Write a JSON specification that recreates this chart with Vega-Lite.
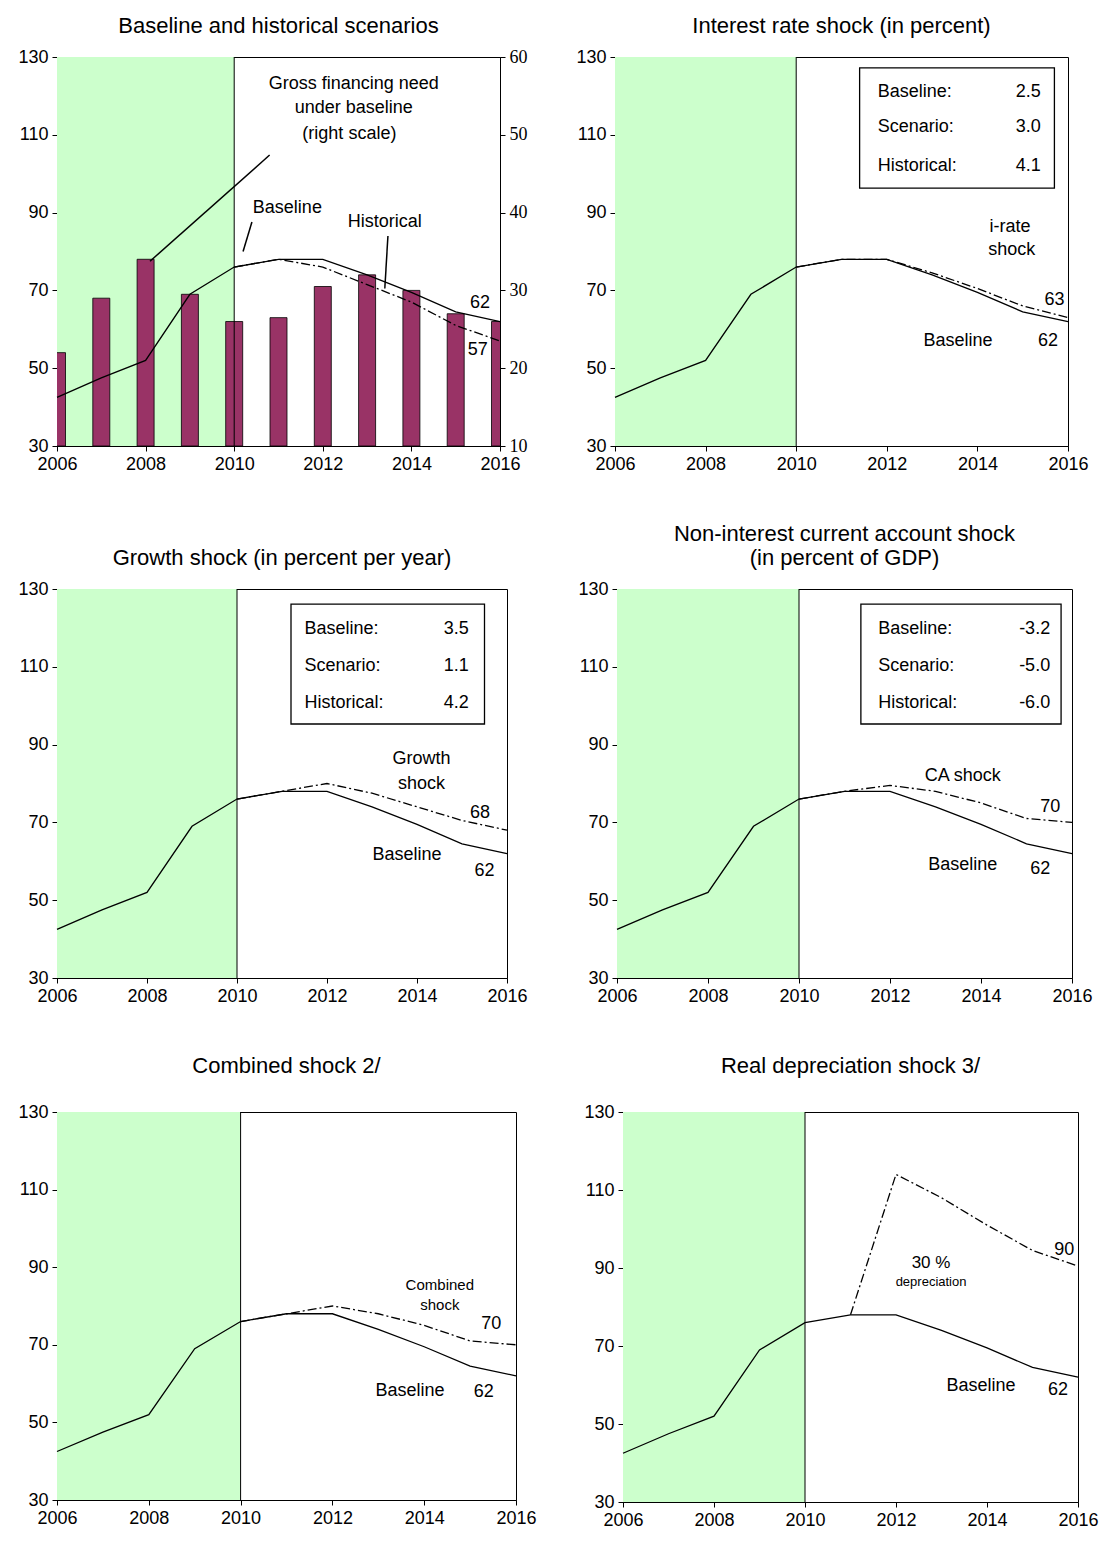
{
  "$schema": "https://vega.github.io/schema/vega-lite/v6.json",
  "padding": {"left": 17, "top": 14, "right": 5, "bottom": 5},
  "datasets": {
    "base": [
      {"year":2006,"v":42.5},{"year":2007,"v":47.5},{"year":2008,"v":52},{"year":2009,"v":69},{"year":2010,"v":76},{"year":2011,"v":78},{"year":2012,"v":78},{"year":2013,"v":74},{"year":2014,"v":69.5},{"year":2015,"v":64.5},{"year":2016,"v":62}
    ],
    "scen": [
      {"p":1,"year":2010,"v":76},{"p":1,"year":2011,"v":78},{"p":1,"year":2012,"v":76},{"p":1,"year":2013,"v":71.5},{"p":1,"year":2014,"v":67},{"p":1,"year":2015,"v":61},{"p":1,"year":2016,"v":57},
      {"p":2,"year":2010,"v":76},{"p":2,"year":2011,"v":78},{"p":2,"year":2012,"v":78},{"p":2,"year":2013,"v":74.5},{"p":2,"year":2014,"v":70.5},{"p":2,"year":2015,"v":66},{"p":2,"year":2016,"v":63},
      {"p":3,"year":2010,"v":76},{"p":3,"year":2011,"v":78},{"p":3,"year":2012,"v":80},{"p":3,"year":2013,"v":77.5},{"p":3,"year":2014,"v":74},{"p":3,"year":2015,"v":70.5},{"p":3,"year":2016,"v":68},
      {"p":4,"year":2010,"v":76},{"p":4,"year":2011,"v":78},{"p":4,"year":2012,"v":79.5},{"p":4,"year":2013,"v":78},{"p":4,"year":2014,"v":75},{"p":4,"year":2015,"v":71},{"p":4,"year":2016,"v":70},
      {"p":5,"year":2010,"v":76},{"p":5,"year":2011,"v":78},{"p":5,"year":2012,"v":80},{"p":5,"year":2013,"v":78},{"p":5,"year":2014,"v":75},{"p":5,"year":2015,"v":71},{"p":5,"year":2016,"v":70},
      {"p":6,"year":2011,"v":78},{"p":6,"year":2012,"v":114},{"p":6,"year":2013,"v":108},{"p":6,"year":2014,"v":101},{"p":6,"year":2015,"v":94.5},{"p":6,"year":2016,"v":90.5}
    ],
    "gfn": [
      {"year":2006,"v":22},{"year":2007,"v":29},{"year":2008,"v":34},{"year":2009,"v":29.5},{"year":2010,"v":26},{"year":2011,"v":26.5},{"year":2012,"v":30.5},{"year":2013,"v":32},{"year":2014,"v":30},{"year":2015,"v":27},{"year":2016,"v":26}
    ],
    "lab": [
      {"p":1,"x":2012.7,"y":123.1,"t":"Gross financing need","s":18},
      {"p":1,"x":2012.7,"y":116.9,"t":"under baseline","s":18},
      {"p":1,"x":2012.6,"y":110.2,"t":"(right scale)","s":18},
      {"p":1,"x":2011.2,"y":91.2,"t":"Baseline","s":18},
      {"p":1,"x":2013.4,"y":87.6,"t":"Historical","s":18},
      {"p":1,"x":2015.55,"y":66.8,"t":"62","s":18},
      {"p":1,"x":2015.5,"y":54.7,"t":"57","s":18},
      {"p":2,"x":2014.72,"y":86.3,"t":"i-rate","s":18},
      {"p":2,"x":2014.76,"y":80.4,"t":"shock","s":18},
      {"p":2,"x":2015.7,"y":67.5,"t":"63","s":18},
      {"p":2,"x":2013.57,"y":57,"t":"Baseline","s":18},
      {"p":2,"x":2015.56,"y":57,"t":"62","s":18},
      {"p":3,"x":2014.1,"y":86.3,"t":"Growth","s":18},
      {"p":3,"x":2014.1,"y":80,"t":"shock","s":18},
      {"p":3,"x":2015.4,"y":72.4,"t":"68","s":18},
      {"p":3,"x":2013.78,"y":61.6,"t":"Baseline","s":18},
      {"p":3,"x":2015.5,"y":57.5,"t":"62","s":18},
      {"p":4,"x":2013.6,"y":81.9,"t":"CA shock","s":18},
      {"p":4,"x":2015.52,"y":74,"t":"70","s":18},
      {"p":4,"x":2013.6,"y":59.1,"t":"Baseline","s":18},
      {"p":4,"x":2015.3,"y":58,"t":"62","s":18},
      {"p":5,"x":2014.34,"y":85.4,"t":"Combined","s":15},
      {"p":5,"x":2014.34,"y":80.3,"t":"shock","s":15},
      {"p":5,"x":2015.46,"y":75.4,"t":"70","s":18},
      {"p":5,"x":2013.69,"y":58.1,"t":"Baseline","s":18},
      {"p":5,"x":2015.3,"y":57.8,"t":"62","s":18},
      {"p":6,"x":2012.77,"y":91.3,"t":"30 %","s":17},
      {"p":6,"x":2012.77,"y":86.4,"t":"depreciation","s":13},
      {"p":6,"x":2015.7,"y":94.6,"t":"90","s":18},
      {"p":6,"x":2013.87,"y":59.7,"t":"Baseline","s":18},
      {"p":6,"x":2015.56,"y":58.7,"t":"62","s":18}
    ],
    "box": [
      {"p":2,"x0":2011.4,"x1":2015.7,"y0":96.3,"y1":127.2},
      {"p":3,"x0":2011.2,"x1":2015.5,"y0":95.3,"y1":126.1},
      {"p":4,"x0":2011.36,"x1":2015.76,"y0":95.3,"y1":126.1}
    ],
    "boxtext": [
      {"p":2,"lx":2011.8,"vx":2015.4,"y":121,"l":"Baseline:","v":"2.5"},
      {"p":2,"lx":2011.8,"vx":2015.4,"y":112,"l":"Scenario:","v":"3.0"},
      {"p":2,"lx":2011.8,"vx":2015.4,"y":102,"l":"Historical:","v":"4.1"},
      {"p":3,"lx":2011.5,"vx":2015.15,"y":119.7,"l":"Baseline:","v":"3.5"},
      {"p":3,"lx":2011.5,"vx":2015.15,"y":110.2,"l":"Scenario:","v":"1.1"},
      {"p":3,"lx":2011.5,"vx":2015.15,"y":100.7,"l":"Historical:","v":"4.2"},
      {"p":4,"lx":2011.74,"vx":2015.52,"y":119.7,"l":"Baseline:","v":"-3.2"},
      {"p":4,"lx":2011.74,"vx":2015.52,"y":110.2,"l":"Scenario:","v":"-5.0"},
      {"p":4,"lx":2011.74,"vx":2015.52,"y":100.7,"l":"Historical:","v":"-6.0"}
    ],
    "arrows": [
      {"x":2010.8,"y":104.8,"x2":2008.1,"y2":77.5},
      {"x":2010.4,"y":87.6,"x2":2010.2,"y2":80},
      {"x":2013.47,"y":84,"x2":2013.4,"y2":70.5}
    ],
    "shade": [{"x0":2006,"x1":2010}]
  },
  "config": {
    "view": {"stroke": "black", "strokeWidth": 1},
    "axis": {"grid": false, "labelFont": "Liberation Sans", "labelFontSize": 18, "labelColor": "black", "domainColor": "black", "tickColor": "black", "tickSize": 5, "labelPadding": 4, "labelFlush": false},
    "title": {"font": "Liberation Sans", "fontSize": 22, "fontWeight": "normal", "color": "black", "offset": 10},
    "text": {"font": "Liberation Sans", "fontSize": 18, "color": "black"}
  },
  "spacing": 48,
  "vconcat": [
    {"spacing": 47, "hconcat": [
      {"title": "Baseline and historical scenarios", "width": 443, "height": 389,
       "resolve": {"scale": {"y": "independent"}},
       "layer": [
        {"data": {"name": "shade"}, "mark": {"type": "rect", "color": "#ccffcc"},
         "encoding": {"x": {"field": "x0", "type": "quantitative", "scale": {"domain": [2006, 2016], "padding": 0, "nice": false}, "axis": {"values": [2006,2008,2010,2012,2014,2016], "format": "d"}, "title": null}, "x2": {"field": "x1"}}},
        {"data": {"name": "gfn"}, "mark": {"type": "bar", "size": 17, "color": "#993366", "stroke": "black", "strokeWidth": 0.8, "clip": true},
         "encoding": {"x": {"field": "year", "type": "quantitative"}, "y": {"field": "v", "type": "quantitative", "scale": {"domain": [10, 60], "zero": false}, "axis": {"orient": "right", "values": [10,20,30,40,50,60], "labelFont": "Liberation Serif"}, "title": null}, "y2": {"datum": 10}}},
        {"layer": [
          {"data": {"values": [{"x": 2010}]}, "mark": {"type": "rule", "color": "black"}, "encoding": {"x": {"field": "x", "type": "quantitative"}}},
          {"data": {"name": "base"}, "mark": {"type": "line", "color": "black", "strokeWidth": 1.3},
           "encoding": {"x": {"field": "year", "type": "quantitative"}, "y": {"field": "v", "type": "quantitative", "scale": {"domain": [30, 130]}, "axis": {"values": [30,50,70,90,110,130]}, "title": null}}},
          {"data": {"name": "scen"}, "transform": [{"filter": "datum.p == 1"}], "mark": {"type": "line", "color": "black", "strokeWidth": 1.3, "strokeDash": [9, 3, 2, 3]},
           "encoding": {"x": {"field": "year", "type": "quantitative"}, "y": {"field": "v", "type": "quantitative"}}},
          {"data": {"name": "arrows"}, "mark": {"type": "rule", "color": "black", "strokeWidth": 1.5},
           "encoding": {"x": {"field": "x", "type": "quantitative"}, "y": {"field": "y", "type": "quantitative"}, "x2": {"field": "x2"}, "y2": {"field": "y2"}}},
          {"data": {"name": "lab"}, "transform": [{"filter": "datum.p == 1"}], "mark": {"type": "text"},
           "encoding": {"x": {"field": "x", "type": "quantitative"}, "y": {"field": "y", "type": "quantitative"}, "text": {"field": "t"}, "size": {"field": "s", "type": "quantitative", "scale": null}}}
        ]}
       ]},
      {"title": "Interest rate shock (in percent)", "width": 453, "height": 389,
       "layer": [
        {"data": {"name": "shade"}, "mark": {"type": "rect", "color": "#ccffcc"},
         "encoding": {"x": {"field": "x0", "type": "quantitative", "scale": {"domain": [2006, 2016], "padding": 0, "nice": false}, "axis": {"values": [2006,2008,2010,2012,2014,2016], "format": "d"}, "title": null}, "x2": {"field": "x1"}}},
        {"data": {"values": [{"x": 2010}]}, "mark": {"type": "rule", "color": "black"}, "encoding": {"x": {"field": "x", "type": "quantitative"}}},
        {"data": {"name": "base"}, "mark": {"type": "line", "color": "black", "strokeWidth": 1.3},
         "encoding": {"x": {"field": "year", "type": "quantitative"}, "y": {"field": "v", "type": "quantitative", "scale": {"domain": [30, 130]}, "axis": {"values": [30,50,70,90,110,130]}, "title": null}}},
        {"data": {"name": "scen"}, "transform": [{"filter": "datum.p == 2"}], "mark": {"type": "line", "color": "black", "strokeWidth": 1.3, "strokeDash": [9, 3, 2, 3]},
         "encoding": {"x": {"field": "year", "type": "quantitative"}, "y": {"field": "v", "type": "quantitative"}}},
        {"data": {"name": "box"}, "transform": [{"filter": "datum.p == 2"}], "mark": {"type": "rect", "fill": "white", "stroke": "black", "strokeWidth": 1.3},
         "encoding": {"x": {"field": "x0", "type": "quantitative"}, "x2": {"field": "x1"}, "y": {"field": "y0", "type": "quantitative"}, "y2": {"field": "y1"}}},
        {"data": {"name": "boxtext"}, "transform": [{"filter": "datum.p == 2"}], "mark": {"type": "text", "align": "left"},
         "encoding": {"x": {"field": "lx", "type": "quantitative"}, "y": {"field": "y", "type": "quantitative"}, "text": {"field": "l"}}},
        {"data": {"name": "boxtext"}, "transform": [{"filter": "datum.p == 2"}], "mark": {"type": "text", "align": "right"},
         "encoding": {"x": {"field": "vx", "type": "quantitative"}, "y": {"field": "y", "type": "quantitative"}, "text": {"field": "v"}}},
        {"data": {"name": "lab"}, "transform": [{"filter": "datum.p == 2"}], "mark": {"type": "text"},
         "encoding": {"x": {"field": "x", "type": "quantitative"}, "y": {"field": "y", "type": "quantitative"}, "text": {"field": "t"}, "size": {"field": "s", "type": "quantitative", "scale": null}}}
       ]}
    ]},
    {"spacing": 49, "hconcat": [
      {"title": "Growth shock (in percent per year)", "width": 450, "height": 389,
       "layer": [
        {"data": {"name": "shade"}, "mark": {"type": "rect", "color": "#ccffcc"},
         "encoding": {"x": {"field": "x0", "type": "quantitative", "scale": {"domain": [2006, 2016], "padding": 0, "nice": false}, "axis": {"values": [2006,2008,2010,2012,2014,2016], "format": "d"}, "title": null}, "x2": {"field": "x1"}}},
        {"data": {"values": [{"x": 2010}]}, "mark": {"type": "rule", "color": "black"}, "encoding": {"x": {"field": "x", "type": "quantitative"}}},
        {"data": {"name": "base"}, "mark": {"type": "line", "color": "black", "strokeWidth": 1.3},
         "encoding": {"x": {"field": "year", "type": "quantitative"}, "y": {"field": "v", "type": "quantitative", "scale": {"domain": [30, 130]}, "axis": {"values": [30,50,70,90,110,130]}, "title": null}}},
        {"data": {"name": "scen"}, "transform": [{"filter": "datum.p == 3"}], "mark": {"type": "line", "color": "black", "strokeWidth": 1.3, "strokeDash": [9, 3, 2, 3]},
         "encoding": {"x": {"field": "year", "type": "quantitative"}, "y": {"field": "v", "type": "quantitative"}}},
        {"data": {"name": "box"}, "transform": [{"filter": "datum.p == 3"}], "mark": {"type": "rect", "fill": "white", "stroke": "black", "strokeWidth": 1.3},
         "encoding": {"x": {"field": "x0", "type": "quantitative"}, "x2": {"field": "x1"}, "y": {"field": "y0", "type": "quantitative"}, "y2": {"field": "y1"}}},
        {"data": {"name": "boxtext"}, "transform": [{"filter": "datum.p == 3"}], "mark": {"type": "text", "align": "left"},
         "encoding": {"x": {"field": "lx", "type": "quantitative"}, "y": {"field": "y", "type": "quantitative"}, "text": {"field": "l"}}},
        {"data": {"name": "boxtext"}, "transform": [{"filter": "datum.p == 3"}], "mark": {"type": "text", "align": "right"},
         "encoding": {"x": {"field": "vx", "type": "quantitative"}, "y": {"field": "y", "type": "quantitative"}, "text": {"field": "v"}}},
        {"data": {"name": "lab"}, "transform": [{"filter": "datum.p == 3"}], "mark": {"type": "text"},
         "encoding": {"x": {"field": "x", "type": "quantitative"}, "y": {"field": "y", "type": "quantitative"}, "text": {"field": "t"}, "size": {"field": "s", "type": "quantitative", "scale": null}}}
       ]},
      {"title": {"text": ["Non-interest current account shock", "(in percent of GDP)"]}, "width": 455, "height": 389,
       "layer": [
        {"data": {"name": "shade"}, "mark": {"type": "rect", "color": "#ccffcc"},
         "encoding": {"x": {"field": "x0", "type": "quantitative", "scale": {"domain": [2006, 2016], "padding": 0, "nice": false}, "axis": {"values": [2006,2008,2010,2012,2014,2016], "format": "d"}, "title": null}, "x2": {"field": "x1"}}},
        {"data": {"values": [{"x": 2010}]}, "mark": {"type": "rule", "color": "black"}, "encoding": {"x": {"field": "x", "type": "quantitative"}}},
        {"data": {"name": "base"}, "mark": {"type": "line", "color": "black", "strokeWidth": 1.3},
         "encoding": {"x": {"field": "year", "type": "quantitative"}, "y": {"field": "v", "type": "quantitative", "scale": {"domain": [30, 130]}, "axis": {"values": [30,50,70,90,110,130]}, "title": null}}},
        {"data": {"name": "scen"}, "transform": [{"filter": "datum.p == 4"}], "mark": {"type": "line", "color": "black", "strokeWidth": 1.3, "strokeDash": [9, 3, 2, 3]},
         "encoding": {"x": {"field": "year", "type": "quantitative"}, "y": {"field": "v", "type": "quantitative"}}},
        {"data": {"name": "box"}, "transform": [{"filter": "datum.p == 4"}], "mark": {"type": "rect", "fill": "white", "stroke": "black", "strokeWidth": 1.3},
         "encoding": {"x": {"field": "x0", "type": "quantitative"}, "x2": {"field": "x1"}, "y": {"field": "y0", "type": "quantitative"}, "y2": {"field": "y1"}}},
        {"data": {"name": "boxtext"}, "transform": [{"filter": "datum.p == 4"}], "mark": {"type": "text", "align": "left"},
         "encoding": {"x": {"field": "lx", "type": "quantitative"}, "y": {"field": "y", "type": "quantitative"}, "text": {"field": "l"}}},
        {"data": {"name": "boxtext"}, "transform": [{"filter": "datum.p == 4"}], "mark": {"type": "text", "align": "right"},
         "encoding": {"x": {"field": "vx", "type": "quantitative"}, "y": {"field": "y", "type": "quantitative"}, "text": {"field": "v"}}},
        {"data": {"name": "lab"}, "transform": [{"filter": "datum.p == 4"}], "mark": {"type": "text"},
         "encoding": {"x": {"field": "x", "type": "quantitative"}, "y": {"field": "y", "type": "quantitative"}, "text": {"field": "t"}, "size": {"field": "s", "type": "quantitative", "scale": null}}}
       ]}
    ]},
    {"spacing": 46, "hconcat": [
      {"title": {"text": "Combined shock  2/", "offset": 25}, "width": 459, "height": 388,
       "layer": [
        {"data": {"name": "shade"}, "mark": {"type": "rect", "color": "#ccffcc"},
         "encoding": {"x": {"field": "x0", "type": "quantitative", "scale": {"domain": [2006, 2016], "padding": 0, "nice": false}, "axis": {"values": [2006,2008,2010,2012,2014,2016], "format": "d"}, "title": null}, "x2": {"field": "x1"}}},
        {"data": {"values": [{"x": 2010}]}, "mark": {"type": "rule", "color": "black"}, "encoding": {"x": {"field": "x", "type": "quantitative"}}},
        {"data": {"name": "base"}, "mark": {"type": "line", "color": "black", "strokeWidth": 1.3},
         "encoding": {"x": {"field": "year", "type": "quantitative"}, "y": {"field": "v", "type": "quantitative", "scale": {"domain": [30, 130]}, "axis": {"values": [30,50,70,90,110,130]}, "title": null}}},
        {"data": {"name": "scen"}, "transform": [{"filter": "datum.p == 5"}], "mark": {"type": "line", "color": "black", "strokeWidth": 1.3, "strokeDash": [9, 3, 2, 3]},
         "encoding": {"x": {"field": "year", "type": "quantitative"}, "y": {"field": "v", "type": "quantitative"}}},
        {"data": {"name": "lab"}, "transform": [{"filter": "datum.p == 5"}], "mark": {"type": "text"},
         "encoding": {"x": {"field": "x", "type": "quantitative"}, "y": {"field": "y", "type": "quantitative"}, "text": {"field": "t"}, "size": {"field": "s", "type": "quantitative", "scale": null}}}
       ]},
      {"title": {"text": "Real depreciation shock  3/", "offset": 25}, "width": 455, "height": 390,
       "layer": [
        {"data": {"name": "shade"}, "mark": {"type": "rect", "color": "#ccffcc"},
         "encoding": {"x": {"field": "x0", "type": "quantitative", "scale": {"domain": [2006, 2016], "padding": 0, "nice": false}, "axis": {"values": [2006,2008,2010,2012,2014,2016], "format": "d"}, "title": null}, "x2": {"field": "x1"}}},
        {"data": {"values": [{"x": 2010}]}, "mark": {"type": "rule", "color": "black"}, "encoding": {"x": {"field": "x", "type": "quantitative"}}},
        {"data": {"name": "base"}, "mark": {"type": "line", "color": "black", "strokeWidth": 1.3},
         "encoding": {"x": {"field": "year", "type": "quantitative"}, "y": {"field": "v", "type": "quantitative", "scale": {"domain": [30, 130]}, "axis": {"values": [30,50,70,90,110,130]}, "title": null}}},
        {"data": {"name": "scen"}, "transform": [{"filter": "datum.p == 6"}], "mark": {"type": "line", "color": "black", "strokeWidth": 1.3, "strokeDash": [9, 3, 2, 3]},
         "encoding": {"x": {"field": "year", "type": "quantitative"}, "y": {"field": "v", "type": "quantitative"}}},
        {"data": {"name": "lab"}, "transform": [{"filter": "datum.p == 6"}], "mark": {"type": "text"},
         "encoding": {"x": {"field": "x", "type": "quantitative"}, "y": {"field": "y", "type": "quantitative"}, "text": {"field": "t"}, "size": {"field": "s", "type": "quantitative", "scale": null}}}
       ]}
    ]}
  ]
}
